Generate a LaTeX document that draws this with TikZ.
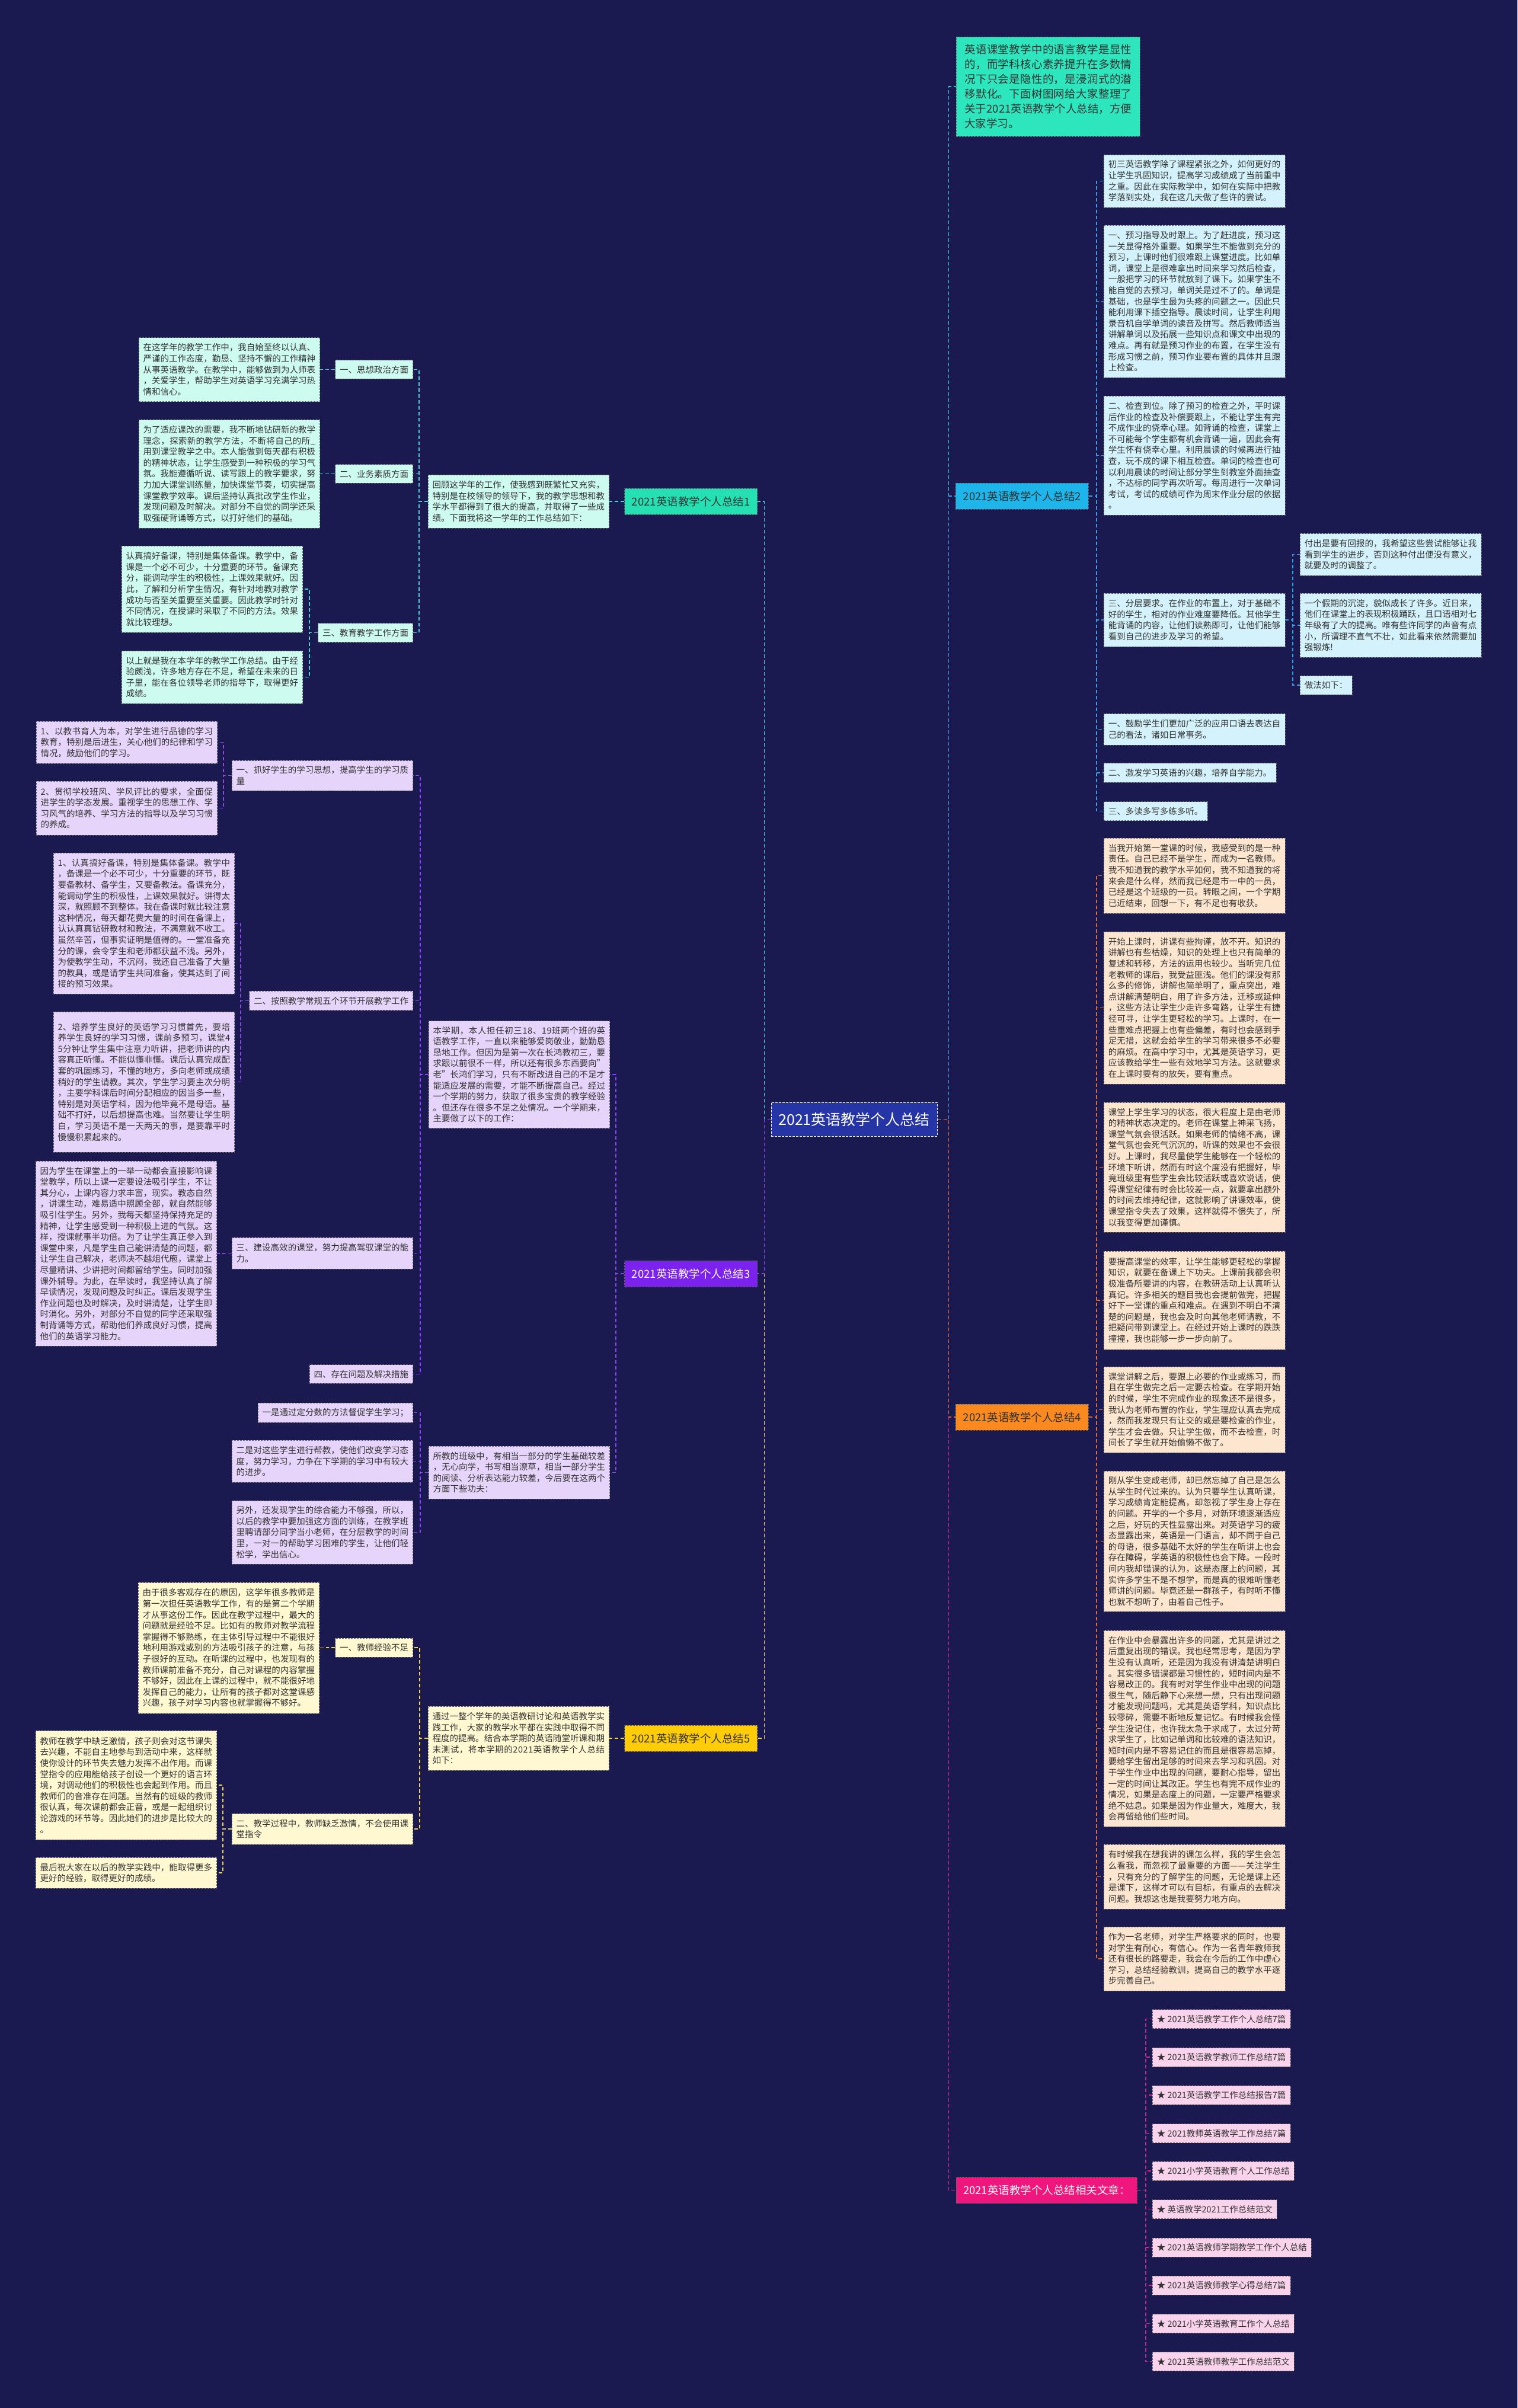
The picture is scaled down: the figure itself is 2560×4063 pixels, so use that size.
\documentclass[tikz,border=0pt]{standalone}
\usepackage{fontspec}
\setmainfont{Noto Sans CJK SC}
\XeTeXlinebreaklocale "zh"
\XeTeXlinebreakskip=0pt plus 1pt
\XeTeXinterchartokenstate=1
\XeTeXinterchartoks 1 1={\hskip0pt plus 1pt\relax}
\XeTeXinterchartoks 1 2={\hskip0pt plus 1pt\relax}
\XeTeXinterchartoks 1 3={\hskip0pt plus 1pt\relax}
\XeTeXinterchartoks 2 1={\hskip0pt plus 1pt\relax}
\XeTeXinterchartoks 3 1={\hskip0pt plus 1pt\relax}
\XeTeXinterchartoks 3 2={\hskip0pt plus 1pt\relax}
\XeTeXinterchartoks 3 3={\hskip0pt plus 1pt\relax}
\XeTeXinterchartoks 0 1={\hskip0pt plus 1pt\relax}
\XeTeXinterchartoks 1 0={\hskip0pt plus 1pt\relax}
\XeTeXinterchartoks 0 3={\hskip0pt plus 1pt\relax}
\XeTeXinterchartoks 3 0={\hskip0pt plus 1pt\relax}
\XeTeXinterchartoks 0 2={\hskip0pt plus 1pt\relax}
\XeTeXinterchartoks 2 0={\hskip0pt plus 1pt\relax}
\XeTeXinterchartoks 0 0={\hskip0pt plus 0.5pt\relax}
\setlength\parindent{0pt}
\newcommand\mybody{\fontsize{14.5pt}{18.6pt}\selectfont}
\newcommand\mylabel{\fontsize{18.5pt}{22pt}\selectfont}
\newcommand\myintro{\fontsize{18.5pt}{25pt}\selectfont}
\newcommand\mycenter{\fontsize{25pt}{30pt}\selectfont}
\definecolor{bg}{HTML}{1B1A50}
\definecolor{txt}{HTML}{333333}
\definecolor{cenfill}{HTML}{2535A6}
\definecolor{introfill}{HTML}{2DE6BE}
\definecolor{introline}{HTML}{2FC9D6}
\definecolor{laba}{HTML}{24E0B3}
\definecolor{filla}{HTML}{CEFBEF}
\definecolor{linea}{HTML}{48D1D6}
\definecolor{labb}{HTML}{1DB5EA}
\definecolor{fillb}{HTML}{D3F2FB}
\definecolor{lineb}{HTML}{3A9EE4}
\definecolor{labc}{HTML}{7B22EE}
\definecolor{fillc}{HTML}{E7D4FB}
\definecolor{linec}{HTML}{8B42F2}
\definecolor{labd}{HTML}{FA8A1F}
\definecolor{filld}{HTML}{FDE6CF}
\definecolor{lined}{HTML}{E8692E}
\definecolor{labe}{HTML}{FFCC08}
\definecolor{fille}{HTML}{FFF8D0}
\definecolor{linee}{HTML}{F2D44C}
\definecolor{labf}{HTML}{EF167D}
\definecolor{fillf}{HTML}{F9D3EC}
\definecolor{linef}{HTML}{D92390}
\begin{document}
\begin{tikzpicture}[x=1pt,y=-1pt,
  box/.style={draw=black!60, line width=0.8pt, dash pattern=on 3pt off 2pt, inner xsep=7.5pt, inner ysep=9.25pt, font=\mybody, text=txt},
  para/.style={box, text width=290.5pt, align=justify},
  lbl/.style={draw=black!60, line width=0.8pt, dash pattern=on 3pt off 2pt, font=\mylabel, minimum width=224pt, minimum height=44pt, inner xsep=10pt, text=txt},
  conn/.style={line width=1.8pt, dash pattern=on 6pt off 4pt},
]
\fill[bg] (0,0) rectangle (2560,4063);
\useasboundingbox (0,0) rectangle (2560,4063);

% centre
\node[draw=white!75, line width=1pt, dash pattern=on 4pt off 2pt, fill=cenfill, text=white, font=\mycenter, minimum width=280pt, minimum height=57pt] (c) at (1441,1888.5) {2021英语教学个人总结};

% intro
\node[box, fill=introfill, font=\myintro, text width=282pt, align=justify, inner xsep=14pt, minimum height=168pt, anchor=west] (intro) at (1613,146) {英语课堂教学中的语言教学是显性的，而学科核心素养提升在多数情况下只会是隐性的，是浸润式的潜移默化。下面树图网给大家整理了关于2021英语教学个人总结，方便大家学习。};

% branch labels
\node[lbl, fill=laba, anchor=east] (L1) at (1278,846) {2021英语教学个人总结1};
\node[lbl, fill=labb, anchor=west] (L2) at (1612,837) {2021英语教学个人总结2};
\node[lbl, fill=labc, text=white, anchor=east] (L3) at (1278,2149) {2021英语教学个人总结3};
\node[lbl, fill=labd, anchor=west] (L4) at (1612,2391) {2021英语教学个人总结4};
\node[lbl, fill=labe, anchor=east] (L5) at (1278,2933) {2021英语教学个人总结5};
\node[lbl, fill=labf, text=white, minimum width=305pt, anchor=west] (L6) at (1613,3695.5) {2021英语教学个人总结相关文章：};

\draw[conn, draw=introline] (c.east) -- ++(19,0) |- (intro.west);
\draw[conn, draw=lineb] (c.east) -- ++(19,0) |- (L2.west);
\draw[conn, draw=linef] (c.east) -- ++(19,0) |- (L6.west);
\draw[conn, draw=lined] (c.east) -- ++(19,0) |- (L4.west);
\draw[conn, draw=linea] (c.west) -- ++(-11,0) |- (L1.east);
\draw[conn, draw=linee] (c.west) -- ++(-11,0) |- (L5.east);
\draw[conn, draw=linec] (c.west) -- ++(-11,0) |- (L3.east);

% ---------- branch 1 ----------
\node[para, fill=filla, minimum height=90pt, anchor=east] (b1t) at (1028,846) {回顾这学年的工作，使我感到既繁忙又充实，特别是在校领导的领导下，我的教学思想和教学水平都得到了很大的提高，并取得了一些成绩。下面我将这一学年的工作总结如下：};
\node[box, fill=filla, anchor=east] (b1a) at (697,623.5) {一、思想政治方面};
\node[para, fill=filla, minimum height=108pt, anchor=east] (b1a1) at (540,623.5) {在这学年的教学工作中，我自始至终以认真、严谨的工作态度，勤恳、坚持不懈的工作精神从事英语教学。在教学中，能够做到为人师表，关爱学生，帮助学生对英语学习充满学习热情和信心。};
\node[box, fill=filla, anchor=east] (b1b) at (697,799.5) {二、业务素质方面};
\node[para, fill=filla, minimum height=183pt, anchor=east] (b1b1) at (540,799.5) {为了适应课改的需要，我不断地钻研新的教学理念，探索新的教学方法，不断将自己的所\_用到课堂教学之中。本人能做到每天都有积极的精神状态，让学生感受到一种积极的学习气氛。我能遵循听说、读写跟上的教学要求，努力加大课堂训练量，加快课堂节奏，切实提高课堂教学效率。课后坚持认真批改学生作业，发现问题及时解决。对部分不自觉的同学还采取强硬背诵等方式，以打好他们的基础。};
\node[box, fill=filla, anchor=east] (b1c) at (697,1067.5) {三、教育教学工作方面};
\node[para, fill=filla, minimum height=146pt, anchor=east] (b1c1) at (511,994) {认真搞好备课，特别是集体备课。教学中，备课是一个必不可少，十分重要的环节。备课充分，能调动学生的积极性，上课效果就好。因此，了解和分析学生情况，有针对地教对教学成功与否至关重要至关重要。因此教学时针对不同情况，在授课时采取了不同的方法。效果就比较理想。};
\node[para, fill=filla, minimum height=89pt, anchor=east] (b1c2) at (511,1142.5) {以上就是我在本学年的教学工作总结。由于经验颇浅，许多地方存在不足，希望在未来的日子里，能在各位领导老师的指导下，取得更好成绩。};
\draw[conn, draw=linea] (L1.west) -- ++(-13,0) |- (b1t.east);
\foreach \n in {b1a,b1b,b1c} \draw[conn, draw=linea] (b1t.west) -- ++(-15,0) |- (\n.east);
\draw[conn, draw=linea] (b1a.west) -- ++(-13,0) |- (b1a1.east);
\draw[conn, draw=linea] (b1b.west) -- ++(-13,0) |- (b1b1.east);
\foreach \n in {b1c1,b1c2} \draw[conn, draw=linea] (b1c.west) -- ++(-14,0) |- (\n.east);

% ---------- branch 2 ----------
\node[para, fill=fillb, minimum height=89pt, anchor=west] (p1) at (1862,305.5) {初三英语教学除了课程紧张之外，如何更好的让学生巩固知识，提高学习成绩成了当前重中之重。因此在实际教学中，如何在实际中把教学落到实处，我在这几天做了些许的尝试。};
\node[para, fill=fillb, minimum height=257pt, anchor=west] (p2) at (1862,508.5) {一、预习指导及时跟上。为了赶进度，预习这一关显得格外重要。如果学生不能做到充分的预习，上课时他们很难跟上课堂进度。比如单词，课堂上是很难拿出时间来学习然后检查，一般把学习的环节就放到了课下。如果学生不能自觉的去预习，单词关是过不了的。单词是基础，也是学生最为头疼的问题之一。因此只能利用课下插空指导。晨读时间，让学生利用录音机自学单词的读音及拼写。然后教师适当讲解单词以及拓展一些知识点和课文中出现的难点。再有就是预习作业的布置，在学生没有形成习惯之前，预习作业要布置的具体并且跟上检查。};
\node[para, fill=fillb, minimum height=201pt, anchor=west] (p3) at (1862,768.5) {二、检查到位。除了预习的检查之外，平时课后作业的检查及补偿要跟上，不能让学生有完不成作业的侥幸心理。如背诵的检查，课堂上不可能每个学生都有机会背诵一遍，因此会有学生怀有侥幸心里。利用晨读的时候再进行抽查，玩不成的课下相互检查。单词的检查也可以利用晨读的时间让部分学生到教室外面抽查，不达标的同学再次听写。每周进行一次单词考试，考试的成绩可作为周末作业分层的依据。};
\node[para, fill=fillb, minimum height=90pt, anchor=west] (p4) at (1862,1046) {三、分层要求。在作业的布置上，对于基础不好的学生，相对的作业难度要降低。其他学生能背诵的内容，让他们读熟即可，让他们能够看到自己的进步及学习的希望。};
\node[para, fill=fillb, minimum height=53pt, anchor=west] (q1) at (1862,1230.5) {一、鼓励学生们更加广泛的应用口语去表达自己的看法，诸如日常事务。};
\node[box, fill=fillb, anchor=west] (q2) at (1862,1304) {二、激发学习英语的兴趣，培养自学能力。};
\node[box, fill=fillb, anchor=west] (q3) at (1862,1368.5) {三、多读多写多练多听。};
\node[para, fill=fillb, minimum height=71pt, anchor=west] (n1) at (2193,935.5) {付出是要有回报的，我希望这些尝试能够让我看到学生的进步，否则这种付出便没有意义，就要及时的调整了。};
\node[para, fill=fillb, minimum height=108pt, anchor=west] (n2) at (2193,1055) {一个假期的沉淀，貌似成长了许多。近日来，他们在课堂上的表现积极踊跃，且口语相对七年级有了大的提高。唯有些许同学的声音有点小，所谓理不直气不壮，如此看来依然需要加强锻炼!};
\node[box, fill=fillb, anchor=west] (n3) at (2193,1156) {做法如下：};
\foreach \n in {p1,p2,p3,p4,q1,q2,q3} \draw[conn, draw=lineb] (L2.east) -- ++(13,0) |- (\n.west);
\foreach \n in {n1,n2,n3} \draw[conn, draw=lineb] (p4.east) -- ++(13,0) |- (\n.west);

% ---------- branch 3 ----------
\node[para, fill=fillc, minimum height=181pt, anchor=east] (c3a) at (1029,1813) {本学期，本人担任初三18、19班两个班的英语教学工作，一直以来能够爱岗敬业，勤勤恳恳地工作。但因为是第一次在长鸿教初三，要求跟以前很不一样，所以还有很多东西要向"老"长鸿们学习，只有不断改进自己的不足才能适应发展的需要，才能不断提高自己。经过一个学期的努力，获取了很多宝贵的教学经验。但还存在很多不足之处情况。一个学期来，主要做了以下的工作：};
\node[para, fill=fillc, minimum height=89pt, anchor=east] (c3b) at (1029,2484.5) {所教的班级中，有相当一部分的学生基础较差，无心向学，书写相当潦草，相当一部分学生的阅读、分析表达能力较差，今后要在这两个方面下些功夫：};
\node[para, fill=fillc, minimum height=51pt, anchor=east] (s1) at (697,1308.5) {一、抓好学生的学习思想，提高学生的学习质量};
\node[box, fill=fillc, anchor=east] (s2) at (697,1688.5) {二、按照教学常规五个环节开展教学工作};
\node[para, fill=fillc, minimum height=53pt, anchor=east] (s3) at (697,2114.5) {三、建设高效的课堂，努力提高驾驭课堂的能力。};
\node[box, fill=fillc, anchor=east] (s4) at (697,2318.5) {四、存在问题及解决措施};
\node[para, fill=fillc, minimum height=71pt, anchor=east] (d1) at (367,1252.5) {1、以教书育人为本，对学生进行品德的学习教育，特别是后进生，关心他们的纪律和学习情况，鼓励他们的学习。};
\node[para, fill=fillc, minimum height=91pt, anchor=east] (d2) at (367,1363.5) {2、贯彻学校班风、学风评比的要求，全面促进学生的学态发展。重视学生的思想工作、学习风气的培养、学习方法的指导以及学习习惯的养成。};
\node[para, fill=fillc, minimum height=238pt, anchor=east] (d3) at (396,1558) {1、认真搞好备课，特别是集体备课。教学中，备课是一个必不可少，十分重要的环节，既要备教材、备学生，又要备教法。备课充分，能调动学生的积极性，上课效果就好。讲得太深，就照顾不到整体。我在备课时就比较注意这种情况，每天都花费大量的时间在备课上，认认真真钻研教材和教法，不满意就不收工。虽然辛苦，但事实证明是值得的。一堂准备充分的课，会令学生和老师都获益不浅。另外，为使教学生动，不沉闷，我还自己准备了大量的教具，或是请学生共同准备，使其达到了间接的预习效果。};
\node[para, fill=fillc, minimum height=237pt, anchor=east] (d4) at (396,1825.5) {2、培养学生良好的英语学习习惯首先，要培养学生良好的学习习惯，课前多预习，课堂45分钟让学生集中注意力听讲，把老师讲的内容真正听懂。不能似懂非懂。课后认真完成配套的巩固练习，不懂的地方，多向老师或成绩稍好的学生请教。其次，学生学习要主次分明，主要学科课后时间分配相应的因当多一些，特别是对英语学科，因为他毕竟不是母语。基础不打好，以后想提高也难。当然要让学生明白，学习英语不是一天两天的事，是要靠平时慢慢积累起来的。};
\node[para, fill=fillc, minimum height=312pt, anchor=east] (d5) at (366,2115) {因为学生在课堂上的一举一动都会直接影响课堂教学，所以上课一定要设法吸引学生，不让其分心，上课内容力求丰富，现实。教态自然，讲课生动，难易适中照顾全部，就自然能够吸引住学生。另外，我每天都坚持保持充足的精神，让学生感受到一种积极上进的气氛。这样，授课就事半功倍。为了让学生真正参入到课堂中来，凡是学生自己能讲清楚的问题，都让学生自己解决，老师决不越俎代庖，课堂上尽量精讲、少讲把时间都留给学生。同时加强课外辅导。为此，在早读时，我坚持认真了解早读情况，发现问题及时纠正。课后发现学生作业问题也及时解决，及时讲清楚，让学生即时消化。另外，对部分不自觉的同学还采取强制背诵等方式，帮助他们养成良好习惯，提高他们的英语学习能力。};
\node[box, fill=fillc, anchor=east] (t1) at (697,2383.5) {一是通过定分数的方法督促学生学习；};
\node[para, fill=fillc, minimum height=71pt, anchor=east] (t2) at (697,2465.5) {二是对这些学生进行帮教，使他们改变学习态度，努力学习，力争在下学期的学习中有较大的进步。};
\node[para, fill=fillc, minimum height=107pt, anchor=east] (t3) at (697,2585.5) {另外，还发现学生的综合能力不够强，所以，以后的教学中要加强这方面的训练，在教学班里聘请部分同学当小老师，在分层教学的时间里，一对一的帮助学习困难的学生，让他们轻松学，学出信心。};
\foreach \n in {c3a,c3b} \draw[conn, draw=linec] (L3.west) -- ++(-14,0) |- (\n.east);
\foreach \n in {s1,s2,s3,s4} \draw[conn, draw=linec] (c3a.west) -- ++(-14,0) |- (\n.east);
\foreach \n in {t1,t2,t3} \draw[conn, draw=linec] (c3b.west) -- ++(-14,0) |- (\n.east);
\foreach \n in {d1,d2} \draw[conn, draw=linec] (s1.west) -- ++(-14,0) |- (\n.east);
\foreach \n in {d3,d4} \draw[conn, draw=linec] (s2.west) -- ++(-14,0) |- (\n.east);
\draw[conn, draw=linec] (s3.west) -- ++(-13,0) |- (d5.east);

% ---------- branch 4 ----------
\node[para, fill=filld, minimum height=127pt, anchor=west] (r1) at (1862,1477.5) {当我开始第一堂课的时候，我感受到的是一种责任。自己已经不是学生，而成为一名教师。我不知道我的教学水平如何，我不知道我的将来会是什么样，然而我已经是市一中的一员，已经是这个班级的一员。转眼之间，一个学期已近结束，回想一下，有不足也有收获。};
\node[para, fill=filld, minimum height=257pt, anchor=west] (r2) at (1862,1700.5) {开始上课时，讲课有些拘谨，放不开。知识的讲解也有些枯燥，知识的处理上也只有简单的复述和转移，方法的运用也较少。当听完几位老教师的课后，我受益匪浅。他们的课没有那么多的修饰，讲解也简单明了，重点突出，难点讲解清楚明白，用了许多方法，迁移或延伸，这些方法让学生少走许多弯路，让学生有捷径可寻，让学生更轻松的学习。上课时，在一些重难点把握上也有些偏差，有时也会感到手足无措，这就会给学生的学习带来很多不必要的麻烦。在高中学习中，尤其是英语学习，更应该教给学生一些有效地学习方法。这就要求在上课时要有的放矢，要有重点。};
\node[para, fill=filld, minimum height=219pt, anchor=west] (r3) at (1862,1969.5) {课堂上学生学习的状态，很大程度上是由老师的精神状态决定的。老师在课堂上神采飞扬，课堂气氛会很活跃。如果老师的情绪不高，课堂气氛也会死气沉沉的，听课的效果也不会很好。上课时，我尽量使学生能够在一个轻松的环境下听讲，然而有时这个度没有把握好，毕竟班级里有些学生会比较活跃或喜欢说话，使得课堂纪律有时会比较差一点，就要拿出额外的时间去维持纪律，这就影响了讲课效率，使课堂指令失去了效果，这样就得不偿失了，所以我变得更加谨慎。};
\node[para, fill=filld, minimum height=166pt, anchor=west] (r4) at (1862,2194) {要提高课堂的效率，让学生能够更轻松的掌握知识，就要在备课上下功夫。上课前我都会积极准备所要讲的内容，在教研活动上认真听认真记。许多相关的题目我也会提前做完，把握好下一堂课的重点和难点。在遇到不明白不清楚的问题是，我也会及时向其他老师请教，不把疑问带到课堂上。在经过开始上课时的跌跌撞撞，我也能够一步一步向前了。};
\node[para, fill=filld, minimum height=145pt, anchor=west] (r5) at (1862,2378.5) {课堂讲解之后，要跟上必要的作业或练习，而且在学生做完之后一定要去检查。在学期开始的时候，学生不完成作业的现象还不是很多，我认为老师布置的作业，学生理应认真去完成，然而我发现只有让交的或是要检查的作业，学生才会去做。只让学生做，而不去检查，时间长了学生就开始偷懒不做了。};
\node[para, fill=filld, minimum height=237pt, anchor=west] (r6) at (1862,2600.5) {刚从学生变成老师，却已然忘掉了自己是怎么从学生时代过来的。认为只要学生认真听课，学习成绩肯定能提高，却忽视了学生身上存在的问题。开学的一个多月，对新环境逐渐适应之后，好玩的天性显露出来。对英语学习的疲态显露出来，英语是一门语言，却不同于自己的母语，很多基础不太好的学生在听讲上也会存在障碍，学英语的积极性也会下降。一段时间内我却错误的认为，这是态度上的问题，其实许多学生不是不想学，而是真的很难听懂老师讲的问题。毕竟还是一群孩子，有时听不懂也就不想听了，由着自己性子。};
\node[para, fill=filld, minimum height=331pt, anchor=west] (r7) at (1862,2916.5) {在作业中会暴露出许多的问题，尤其是讲过之后重复出现的错误。我也经常思考，是因为学生没有认真听，还是因为我没有讲清楚讲明白。其实很多错误都是习惯性的，短时间内是不容易改正的。我有时对学生作业中出现的问题很生气，随后静下心来想一想，只有出现问题才能发现问题吗，尤其是英语学科，知识点比较零碎，需要不断地反复记忆。有时候我会怪学生没记住，也许我太急于求成了，太过分苛求学生了，比如记单词和比较难的语法知识，短时间内是不容易记住的而且是很容易忘掉，要给学生留出足够的时间来去学习和巩固。对于学生作业中出现的问题，要耐心指导，留出一定的时间让其改正。学生也有完不成作业的情况，如果是态度上的问题，一定要严格要求绝不姑息。如果是因为作业量大，难度大，我会再留给他们些时间。};
\node[para, fill=filld, minimum height=109pt, anchor=west] (r8) at (1862,3166.5) {有时候我在想我讲的课怎么样，我的学生会怎么看我，而忽视了最重要的方面——关注学生，只有充分的了解学生的问题，无论是课上还是课下，这样才可以有目标，有重点的去解决问题。我想这也是我要努力地方向。};
\node[para, fill=filld, minimum height=108pt, anchor=west] (r9) at (1862,3305) {作为一名老师，对学生严格要求的同时，也要对学生有耐心，有信心。作为一名青年教师我还有很长的路要走，我会在今后的工作中虚心学习，总结经验教训，提高自己的教学水平逐步完善自己。};
\foreach \n in {r1,r2,r3,r4,r5,r6,r7,r8,r9} \draw[conn, draw=lined] (L4.east) -- ++(13,0) |- (\n.west);

% ---------- branch 5 ----------
\node[para, fill=fille, minimum height=108pt, anchor=east] (f0) at (1028,2933) {通过一整个学年的英语教研讨论和英语教学实践工作，大家的教学水平都在实践中取得不同程度的提高。结合本学期的英语随堂听课和期末测试，将本学期的2021英语教学个人总结如下：};
\node[box, fill=fille, anchor=east] (f1) at (697,2780) {一、教师经验不足};
\node[para, fill=fille, minimum height=221pt, anchor=east] (f1a) at (539,2780.5) {由于很多客观存在的原因，这学年很多教师是第一次担任英语教学工作，有的是第二个学期才从事这份工作。因此在教学过程中，最大的问题就是经验不足。比如有的教师对教学流程掌握得不够熟练，在主体引导过程中不能很好地利用游戏或别的方法吸引孩子的注意，与孩子很好的互动。在听课的过程中，也发现有的教师课前准备不充分，自己对课程的内容掌握不够好，因此在上课的过程中，就不能很好地发挥自己的能力，让所有的孩子都对这堂课感兴趣，孩子对学习内容也就掌握得不够好。};
\node[para, fill=fille, minimum height=52pt, anchor=east] (f2) at (697,3086) {二、教学过程中，教师缺乏激情，不会使用课堂指令};
\node[para, fill=fille, minimum height=184pt, anchor=east] (f2a) at (366,3012) {教师在教学中缺乏激情，孩子则会对这节课失去兴趣，不能自主地参与到活动中来，这样就使你设计的环节失去魅力发挥不出作用。而课堂指令的应用能给孩子创设一个更好的语言环境，对调动他们的积极性也会起到作用。而且教师们的音准存在问题。当然有的班级的教师很认真，每次课前都会正音，或是一起组织讨论游戏的环节等。因此她们的进步是比较大的。};
\node[para, fill=fille, minimum height=52pt, anchor=east] (f2b) at (366,3160) {最后祝大家在以后的教学实践中，能取得更多更好的经验，取得更好的成绩。};
\draw[conn, draw=linee] (L5.west) -- ++(-13,0) |- (f0.east);
\foreach \n in {f1,f2} \draw[conn, draw=linee] (f0.west) -- ++(-14,0) |- (\n.east);
\draw[conn, draw=linee] (f1.west) -- ++(-14,0) |- (f1a.east);
\foreach \n in {f2a,f2b} \draw[conn, draw=linee] (f2.west) -- ++(-15,0) |- (\n.east);

% ---------- branch 6 ----------
\node[box, fill=fillf, anchor=west] (i1) at (1944,3406.5) {★ 2021英语教学工作个人总结7篇};
\node[box, fill=fillf, anchor=west] (i2) at (1944,3471) {★ 2021英语教学教师工作总结7篇};
\node[box, fill=fillf, anchor=west] (i3) at (1944,3535) {★ 2021英语教学工作总结报告7篇};
\node[box, fill=fillf, anchor=west] (i4) at (1944,3599.5) {★ 2021教师英语教学工作总结7篇};
\node[box, fill=fillf, anchor=west] (i5) at (1944,3663) {★ 2021小学英语教育个人工作总结};
\node[box, fill=fillf, anchor=west] (i6) at (1944,3727.5) {★ 英语教学2021工作总结范文};
\node[box, fill=fillf, anchor=west] (i7) at (1944,3792) {★ 2021英语教师学期教学工作个人总结};
\node[box, fill=fillf, anchor=west] (i8) at (1944,3856) {★ 2021英语教师教学心得总结7篇};
\node[box, fill=fillf, anchor=west] (i9) at (1944,3920.5) {★ 2021小学英语教育工作个人总结};
\node[box, fill=fillf, anchor=west] (i10) at (1944,3984.5) {★ 2021英语教师教学工作总结范文};
\foreach \n in {i1,i2,i3,i4,i5,i6,i7,i8,i9,i10} \draw[conn, draw=linef] (L6.east) -- ++(14,0) |- (\n.west);
\end{tikzpicture}
\end{document}
